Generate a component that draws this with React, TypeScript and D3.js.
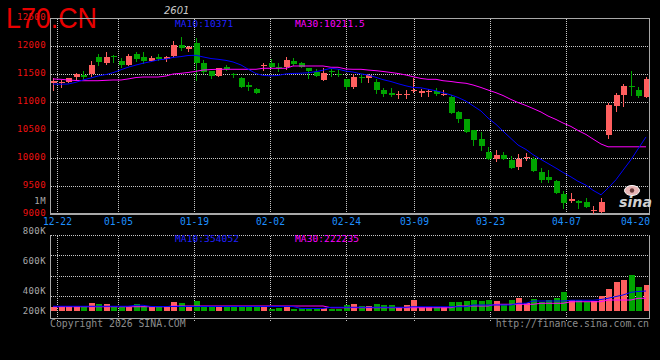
import React from "react";
import * as d3 from "d3";

const dates = [
  "12-19","12-22","12-23","12-24","12-25","12-26","12-29","12-30","12-31",
  "01-05","01-06","01-07","01-08","01-09","01-12","01-13","01-14","01-15","01-16",
  "01-19","01-20","01-21","01-22","01-23","01-26","01-27","01-28","01-29","01-30",
  "02-02","02-03","02-04","02-05","02-06","02-09","02-10","02-11","02-12","02-13",
  "02-24","02-25","02-26","02-27","03-02","03-03","03-04","03-05","03-06",
  "03-09","03-10","03-11","03-12","03-13","03-16","03-17","03-18","03-19","03-20",
  "03-23","03-24","03-25","03-26","03-27","03-30","03-31","04-01","04-02","04-03",
  "04-07","04-08","04-09","04-10","04-13","04-14","04-15","04-16","04-17",
  "04-20","04-21","04-22",
];

const opens = [
  11345, 11334, 11362, 11441, 11482, 11495, 11809, 11705, 11827, 11732,
  11666, 11857, 11798, 11738, 11809, 11762, 11821, 12018, 11946, 12059,
  11690, 11545, 11473, 11630, 11500, 11423, 11304, 11227, 11652, 11690,
  11630, 11630, 11732, 11690, 11602, 11541, 11393, 11560, 11505, 11411,
  11273, 11455, 11423, 11363, 11214, 11155, 11130, 11130, 11205, 11166,
  11180, 11190, 11140, 11095, 10816, 10696, 10500, 10339, 10107, 9976,
  10054, 9964, 9845, 10000, 9982, 9755, 9666, 9590, 9357, 9238,
  9232, 9209, 9065, 9030, 10411, 10934, 11125, 11291, 11214, 11095,
];
const highs = [
  11423, 11393, 11430, 11512, 11548, 11727, 11857, 11893, 11839, 11786,
  11857, 11893, 11893, 11821, 11857, 11821, 12089, 12166, 12000, 12137,
  11750, 11560, 11610, 11660, 11523, 11452, 11363, 11255, 11690, 11762,
  11690, 11798, 11780, 11708, 11602, 11584, 11602, 11584, 11584, 11411,
  11500, 11495, 11495, 11411, 11245, 11245, 11196, 11214, 11430, 11227,
  11227, 11245, 11214, 11125, 10839, 10696, 10500, 10470, 10190, 10143,
  10101, 10036, 10071, 10083, 10024, 9827, 9786, 9607, 9411, 9370,
  9250, 9290, 9150, 9280, 10976, 11166, 11316, 11554, 11273, 11441,
];
const lows = [
  11214, 11273, 11350, 11411, 11416, 11464, 11666, 11679, 11714, 11630,
  11655, 11738, 11702, 11727, 11750, 11732, 11798, 11929, 11916, 11393,
  11510, 11435, 11465, 11570, 11441, 11270, 11214, 11155, 11571, 11630,
  11560, 11584, 11652, 11620, 11423, 11465, 11393, 11465, 11465, 11227,
  11248, 11363, 11363, 11166, 11116, 11100, 11066, 11066, 11180, 11100,
  11100, 11125, 11125, 10809, 10637, 10470, 10232, 10143, 9976, 9952,
  9976, 9827, 9809, 9964, 9768, 9580, 9565, 9370, 9113, 9220,
  9113, 9130, 9000, 9030, 10363, 10845, 10934, 11125, 11095, 11084,
];
const closes = [
  11380, 11362, 11420, 11495, 11452, 11661, 11720, 11809, 11798, 11661,
  11821, 11762, 11738, 11786, 11762, 11809, 12018, 11958, 11988, 11702,
  11530, 11473, 11602, 11584, 11482, 11273, 11273, 11166, 11660, 11630,
  11600, 11750, 11679, 11630, 11554, 11473, 11523, 11535, 11500, 11262,
  11441, 11420, 11482, 11214, 11143, 11130, 11140, 11150, 11214, 11196,
  11190, 11143, 11143, 10809, 10691, 10470, 10321, 10214, 9976, 10054,
  9976, 9827, 9982, 10012, 9768, 9607, 9607, 9380, 9202, 9262,
  9190, 9130, 9075, 9209, 10946, 11125, 11286, 11273, 11113, 11411,
];
const volumes = [
  77000, 90000, 85000, 85000, 90000, 144000, 126000, 126000, 77000, 77000,
  77000, 126000, 90000, 77000, 77000, 77000, 162000, 144000, 77000, 180000,
  77000, 77000, 77000, 77000, 67000, 67000, 67000, 67000, 67000, 41000,
  54000, 77000, 41000, 60000, 60000, 60000, 60000, 31000, 40000, 108000,
  126000, 90000, 90000, 126000, 108000, 108000, 67000, 108000, 198000, 67000,
  67000, 67000, 67000, 162000, 162000, 180000, 198000, 180000, 198000, 180000,
  126000, 198000, 229000, 149000, 211000, 167000, 198000, 229000, 342000, 198000,
  198000, 167000, 185000, 270000, 396000, 522000, 558000, 648000, 432000, 468000,
];
const ma10 = [
  11321, 11318, 11321, 11352, 11393, 11429, 11464, 11491, 11523, 11576,
  11620, 11660, 11692, 11721, 11752, 11767, 11796, 11811, 11830, 11834,
  11805, 11776, 11763, 11743, 11715, 11661, 11587, 11507, 11475, 11467,
  11474, 11502, 11510, 11514, 11522, 11542, 11567, 11603, 11587, 11551,
  11535, 11502, 11482, 11440, 11399, 11365, 11327, 11288, 11260, 11253,
  11228, 11200, 11166, 11126, 11081, 11015, 10933, 10839, 10715, 10601,
  10480, 10348, 10232, 10152, 10060, 9974, 9902, 9819, 9742, 9662,
  9584, 9514, 9423, 9343, 9461, 9613, 9781, 9970, 10161, 10376,
];
const ma30 = [
  11411, 11405, 11393, 11384, 11380, 11380, 11380, 11387, 11393, 11393,
  11411, 11437, 11446, 11446, 11446, 11464, 11500, 11512, 11527, 11548,
  11571, 11580, 11584, 11584, 11584, 11584, 11584, 11584, 11602, 11602,
  11602, 11602, 11643, 11643, 11643, 11643, 11643, 11620, 11620, 11589,
  11584, 11584, 11571, 11559, 11545, 11527, 11509, 11482, 11452, 11420,
  11405, 11405, 11380, 11366, 11348, 11334, 11304, 11259, 11214, 11166,
  11116, 11045, 10991, 10937, 10884, 10821, 10750, 10688, 10625, 10563,
  10491, 10420, 10339, 10250, 10200, 10200, 10200, 10200, 10200, 10200,
];
const volMa10 = [
  85000, 85000, 85000, 85000, 85000, 85000, 85000, 85000, 85000, 85000,
  85000, 103000, 103000, 81000, 81000, 81000, 81000, 81000, 81000, 81000,
  81000, 81000, 81000, 81000, 81000, 81000, 81000, 81000, 81000, 81000,
  81000, 81000, 81000, 45000, 45000, 45000, 45000, 67000, 67000, 67000,
  67000, 67000, 67000, 67000, 67000, 67000, 67000, 67000, 77000, 77000,
  77000, 77000, 77000, 77000, 77000, 77000, 108000, 108000, 108000, 108000,
  108000, 108000, 139000, 139000, 180000, 180000, 180000, 180000, 180000, 193000,
  193000, 193000, 193000, 207000, 229000, 261000, 288000, 337000, 351000, 360000,
];
const volMa30 = [
  77000, 77000, 77000, 77000, 77000, 77000, 77000, 77000, 77000, 77000,
  77000, 77000, 77000, 77000, 77000, 77000, 90000, 90000, 90000, 90000,
  90000, 90000, 90000, 90000, 90000, 90000, 90000, 90000, 90000, 90000,
  90000, 90000, 90000, 90000, 90000, 90000, 90000, 59000, 59000, 59000,
  59000, 59000, 59000, 59000, 59000, 59000, 59000, 59000, 59000, 59000,
  59000, 59000, 59000, 59000, 90000, 90000, 90000, 90000, 90000, 121000,
  121000, 121000, 121000, 121000, 121000, 139000, 139000, 139000, 139000, 167000,
  167000, 167000, 167000, 167000, 198000, 198000, 198000, 198000, 229000, 229000,
];

const priceTicks = [9000, 9500, 10000, 10500, 11000, 11500, 12000, 12500];
const dateTicks = ["12-22", "01-05", "01-19", "02-02", "02-24", "03-09", "03-23", "04-07", "04-20"];
const gridDates = ["12-22", "01-05", "01-19", "02-02", "02-24", "03-09", "03-23", "04-07"];
const volTickValues = [200000, 400000, 600000, 800000, 1000000];
const volTickLabels = ["200K", "400K", "600K", "800K", "1M"];

const title = "L70.CN";
const contractCode = "2601";
const maLabels = ["MA10:10371", "MA30:10211.5"];
const volMaLabels = ["MA10:354052", "MA30:222235"];

const RED = "#ff5f5f";
const GREEN = "#00a400";
const GRID = "#c8c8c8";
const BORDER = "#a8a8a8";
const MONO = "'DejaVu Sans Mono', 'Liberation Mono', monospace";

export default function App() {
  const x = d3.scalePoint<string>().domain(dates).range([53.2, 645.7]);
  const xGrid = d3.scaleLinear().domain([1, 77]).range([57.3, 634.7]);
  const y = d3.scaleLinear().domain([9000, 12500]).range([214, 18]);
  const yVol = d3.scaleLinear().domain([0, 1368000]).range([311, 235]);
  const yVolLabel = d3.scaleLinear().domain([400000, 1000000]).range([290.5, 200.5]);

  const cx = (i: number) => Math.round(x(dates[i]) as number);
  const gx = (d: string) => Math.round(xGrid(dates.indexOf(d))) + 0.5;

  const priceLine = (arr: number[]) =>
    d3.line<number>().x((_, i) => cx(i)).y((v) => y(v))(arr) || "";
  const volLine = (arr: number[]) =>
    d3.line<number>().x((_, i) => cx(i)).y((v) => yVol(v))(arr) || "";

  const volGridYs = [255.5, 276.5, 296.5];

  return (
    <svg
      width={660}
      height={360}
      style={{ position: "fixed", left: 0, top: 0, background: "#000" }}
    >
      <rect x={0} y={0} width={660} height={360} fill="#000" />
      <defs>
        <clipPath id="mainClip">
          <rect x={51} y={18} width={598} height={196} />
        </clipPath>
        <clipPath id="volClip">
          <rect x={51} y={235} width={598} height={83} />
        </clipPath>
      </defs>

      {/* Title */}
      <text
        x={6}
        y={27.5}
        fontFamily="'Liberation Sans', Arial, sans-serif"
        fontSize={30}
        fill="#e80000"
        textLength={91}
        lengthAdjust="spacingAndGlyphs"
      >
        {title}
      </text>
      <text x={164} y={14} fontFamily="'DejaVu Sans', sans-serif" fontSize={10} fontStyle="italic" fill="#c8c8c8">
        {contractCode}
      </text>

      {/* MA labels main */}
      <text x={175} y={26.5} fontFamily={MONO} fontSize={9.5} letterSpacing={0.1} fill="#2020ff">
        {maLabels[0]}
      </text>
      <text x={295} y={26.5} fontFamily={MONO} fontSize={9.5} letterSpacing={0.1} fill="#ff00ff">
        {maLabels[1]}
      </text>

      {/* main grid */}
      {priceTicks.slice(1, -1).map((p) => (
        <line key={"hg" + p} x1={51} x2={649} y1={Math.round(y(p)) + 0.5} y2={Math.round(y(p)) + 0.5}
          stroke={GRID} strokeDasharray="1,1" />
      ))}
      {gridDates.map((d) => (
        <line key={"vg" + d} x1={gx(d)} x2={gx(d)} y1={19} y2={213} stroke={GRID} strokeDasharray="1,1" />
      ))}
      {/* main borders */}
      <line x1={50} x2={650} y1={18.5} y2={18.5} stroke={BORDER} />
      <line x1={50.5} x2={50.5} y1={18} y2={215} stroke={BORDER} />
      <line x1={649.5} x2={649.5} y1={18} y2={215} stroke={BORDER} />
      <line x1={50} x2={650} y1={214} y2={214} stroke={BORDER} strokeWidth={2} />

      {/* price labels */}
      {priceTicks.map((p) => (
        <text key={"pl" + p} x={46} y={Math.round(y(p)) + 1.8} textAnchor="end" fontFamily={MONO}
          fontSize={9} letterSpacing={0.4} fill="#ee1010">
          {p}
        </text>
      ))}
      <text x={46} y={203.5} textAnchor="end" fontFamily={MONO} fontSize={9} letterSpacing={0.4} fill="#a8a8a8">
        {volTickLabels[4]}
      </text>

      {/* date labels */}
      {dateTicks.map((d) => (
        <text key={"dl" + d} x={gx(d)} y={225} textAnchor="middle" fontFamily={MONO} fontSize={9.6}
          fill="#1e90ff">
          {d}
        </text>
      ))}

      {/* candles */}
      <g clipPath="url(#mainClip)">
        {dates.map((d, i) => {
          const up = closes[i] >= opens[i];
          const col = up ? RED : GREEN;
          const c = cx(i);
          const top = Math.round(y(Math.max(opens[i], closes[i])));
          const bot = Math.round(y(Math.min(opens[i], closes[i])));
          return (
            <g key={"c" + d}>
              <line x1={c + 0.5} x2={c + 0.5} y1={Math.round(y(highs[i]))} y2={Math.round(y(lows[i])) + 1}
                stroke={col} strokeWidth={1} />
              <rect x={c - 2} y={top} width={6} height={Math.max(1, bot - top)} fill={col} />
            </g>
          );
        })}
        <path d={priceLine(ma30)} fill="none" stroke="#ff00ff" strokeWidth={1} />
        <path d={priceLine(ma10)} fill="none" stroke="#0000ff" strokeWidth={1} />
      </g>

      {/* sina logo */}
      <g>
        <ellipse cx={632} cy={190.5} rx={7.5} ry={5} fill="#e8b4b4" stroke="#ffffff" strokeWidth={1} />
        <circle cx={632} cy={190.5} r={2.2} fill="#6a3a3a" />
        <text x={619} y={206.5} fontFamily="'DejaVu Sans', sans-serif" fontWeight="bold" fontStyle="italic"
          fontSize={14} fill="#d0d0d0" textLength={33} lengthAdjust="spacingAndGlyphs">
          sina
        </text>
      </g>

      {/* volume panel */}
      <line x1={51} x2={649} y1={235.5} y2={235.5} stroke={GRID} strokeDasharray="1,1" />
      {volGridYs.map((gy) => (
        <line key={"vgy" + gy} x1={51} x2={649} y1={gy} y2={gy} stroke={GRID} strokeDasharray="1,1" />
      ))}
      {gridDates.map((d) => (
        <line key={"vvg" + d} x1={gx(d)} x2={gx(d)} y1={236} y2={322} stroke={GRID} strokeDasharray="1,1" />
      ))}
      <line x1={50.5} x2={50.5} y1={235} y2={319} stroke={BORDER} />
      <line x1={649.5} x2={649.5} y1={235} y2={319} stroke={BORDER} />
      <line x1={50} x2={650} y1={318.5} y2={318.5} stroke={BORDER} />

      <g clipPath="url(#volClip)">
        {dates.map((d, i) => {
          const up = closes[i] >= opens[i];
          const c = cx(i);
          const top = Math.round(yVol(volumes[i]));
          return (
            <rect key={"v" + d} x={c - 2} y={top} width={6} height={311 - top} fill={up ? RED : GREEN} />
          );
        })}
        <path d={volLine(volMa30)} fill="none" stroke="#ff00ff" strokeWidth={1} />
        <path d={volLine(volMa10)} fill="none" stroke="#0000ff" strokeWidth={1} />
      </g>

      <text x={175} y={241.5} fontFamily={MONO} fontSize={9.5} letterSpacing={0.1} fill="#2020ff">
        {volMaLabels[0]}
      </text>
      <text x={295} y={241.5} fontFamily={MONO} fontSize={9.5} letterSpacing={0.1} fill="#ff00ff">
        {volMaLabels[1]}
      </text>

      {volTickValues.slice(0, 4).map((v, k) => (
        <text key={"vl" + v} x={46} y={Math.min(313.5, yVolLabel(v) + 3.3)} textAnchor="end" fontFamily={MONO}
          fontSize={9} letterSpacing={0.4} fill="#a8a8a8">
          {volTickLabels[k]}
        </text>
      ))}

      <text x={50} y={326.5} fontFamily={MONO} fontSize={9.8} fill="#8c8c8c">
        Copyright 2026 SINA.COM
      </text>
      <text x={649} y={326.5} textAnchor="end" fontFamily={MONO} fontSize={9.8} fill="#8c8c8c">
        http://finance.sina.com.cn
      </text>
    </svg>
  );
}
